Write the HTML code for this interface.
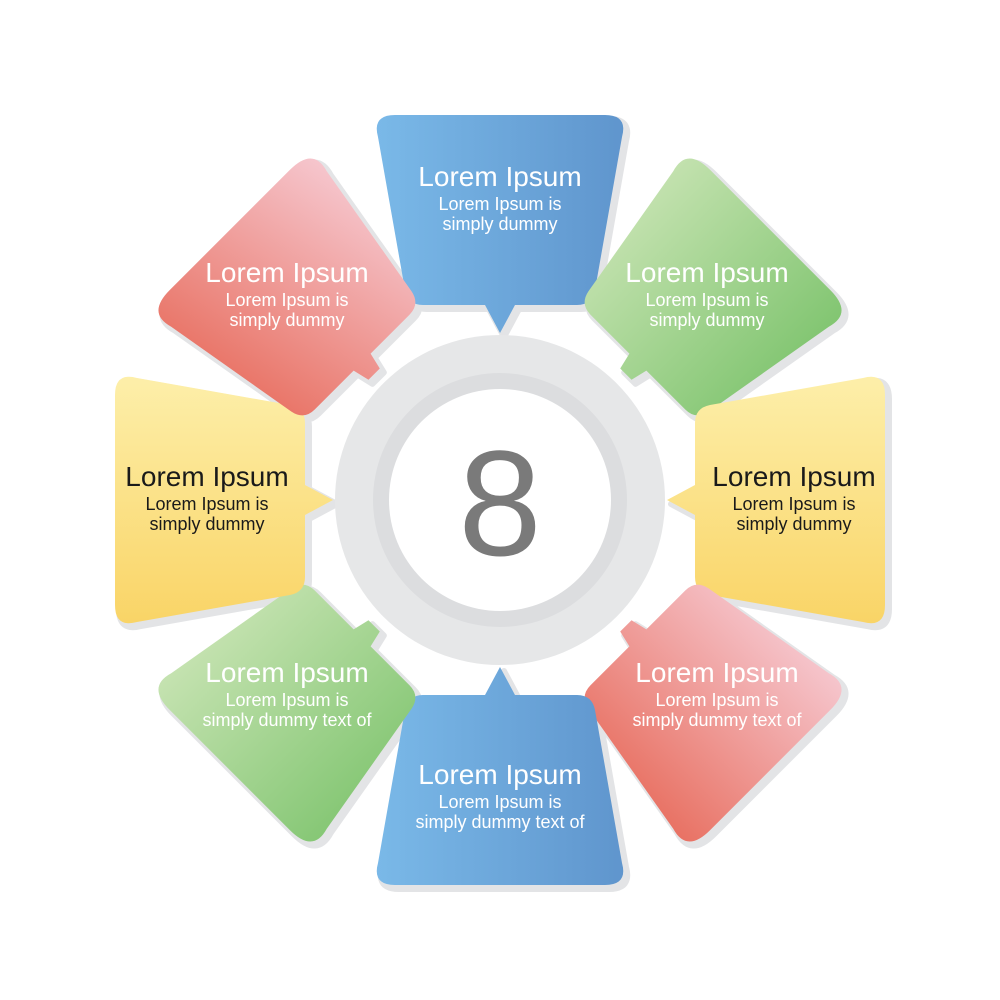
<!DOCTYPE html>
<html><head><meta charset="utf-8"><style>
html,body{margin:0;padding:0;background:#fff;}
svg{display:block;}
text{font-family:"Liberation Sans",Arial,sans-serif;text-anchor:middle;}
</style></head><body>
<svg width="1000" height="1000" viewBox="0 0 1000 1000" xmlns="http://www.w3.org/2000/svg">
<defs>
<path id="p" d="M395,115 L605,115 Q628,115 622,137 L595,290 Q592,305 577,305 L515,305 L500,333 L485,305 L423,305 Q408,305 405,290 L378,137 Q372,115 395,115 Z"/>
<path id="q" d="M415,118 L585,118 Q618,118 610,145 L585,290 Q582,305 567,305 L512,305 L508,322 L492,322 L488,305 L433,305 Q418,305 415,290 L390,145 Q382,118 415,118 Z"/>
<linearGradient id="gT" gradientUnits="userSpaceOnUse" x1="375" y1="0" x2="625" y2="0"><stop offset="0" stop-color="#7ab9e8"/><stop offset="1" stop-color="#5f95cd"/></linearGradient>
<linearGradient id="gB" gradientUnits="userSpaceOnUse" gradientTransform="rotate(-180 500 500)" x1="375" y1="0" x2="625" y2="0"><stop offset="0" stop-color="#7ab9e8"/><stop offset="1" stop-color="#5f95cd"/></linearGradient>
<linearGradient id="gTL" gradientUnits="userSpaceOnUse" gradientTransform="rotate(-315 500 500)" x1="330" y1="160" x2="190" y2="370"><stop offset="0" stop-color="#f6c8d0"/><stop offset="1" stop-color="#e86f60"/></linearGradient>
<linearGradient id="gBR" gradientUnits="userSpaceOnUse" gradientTransform="rotate(-135 500 500)" x1="830" y1="660" x2="660" y2="830"><stop offset="0" stop-color="#f6c8d0"/><stop offset="1" stop-color="#e86f60"/></linearGradient>
<linearGradient id="gTR" gradientUnits="userSpaceOnUse" gradientTransform="rotate(-45 500 500)" x1="630" y1="170" x2="830" y2="360"><stop offset="0" stop-color="#cbe5b6"/><stop offset="1" stop-color="#7cc36c"/></linearGradient>
<linearGradient id="gBL" gradientUnits="userSpaceOnUse" gradientTransform="rotate(-225 500 500)" x1="170" y1="640" x2="370" y2="840"><stop offset="0" stop-color="#cbe5b6"/><stop offset="1" stop-color="#7cc36c"/></linearGradient>
<linearGradient id="gL" gradientUnits="userSpaceOnUse" gradientTransform="rotate(-270 500 500)" x1="0" y1="375" x2="0" y2="625"><stop offset="0" stop-color="#fdefaa"/><stop offset="1" stop-color="#f9d466"/></linearGradient>
<linearGradient id="gR" gradientUnits="userSpaceOnUse" gradientTransform="rotate(-90 500 500)" x1="0" y1="375" x2="0" y2="625"><stop offset="0" stop-color="#fdefaa"/><stop offset="1" stop-color="#f9d466"/></linearGradient>
</defs>
<g fill="#e3e4e6" stroke="#e3e4e6" stroke-width="6" stroke-linejoin="round">
<use href="#p" transform="translate(4,4)"/>
<use href="#q" transform="translate(4,4) rotate(45 500 500)"/>
<use href="#p" transform="translate(4,4) rotate(90 500 500)"/>
<use href="#q" transform="translate(4,4) rotate(135 500 500)"/>
<use href="#p" transform="translate(4,4) rotate(180 500 500)"/>
<use href="#q" transform="translate(4,4) rotate(225 500 500)"/>
<use href="#p" transform="translate(4,4) rotate(270 500 500)"/>
<use href="#q" transform="translate(4,4) rotate(315 500 500)"/>
</g>
<use href="#p" fill="url(#gT)"/>
<use href="#q" fill="url(#gTR)" transform="rotate(45 500 500)"/>
<use href="#p" fill="url(#gR)" transform="rotate(90 500 500)"/>
<use href="#q" fill="url(#gBR)" transform="rotate(135 500 500)"/>
<use href="#p" fill="url(#gB)" transform="rotate(180 500 500)"/>
<use href="#q" fill="url(#gBL)" transform="rotate(225 500 500)"/>
<use href="#p" fill="url(#gL)" transform="rotate(270 500 500)"/>
<use href="#q" fill="url(#gTL)" transform="rotate(315 500 500)"/>
<circle cx="500" cy="500" r="165" fill="#e6e7e8"/>
<circle cx="500" cy="500" r="127" fill="#dcdddf"/>
<circle cx="500" cy="500" r="111" fill="#ffffff"/>
<text x="500" y="555" font-size="150" fill="#7a7a7a">8</text>
<g fill="#fff">
<text x="500" y="186" font-size="28">Lorem Ipsum</text><text x="500" y="210" font-size="18">Lorem Ipsum is</text><text x="500" y="230" font-size="18">simply dummy</text>
<text x="287" y="282" font-size="28">Lorem Ipsum</text><text x="287" y="306" font-size="18">Lorem Ipsum is</text><text x="287" y="326" font-size="18">simply dummy</text>
<text x="707" y="282" font-size="28">Lorem Ipsum</text><text x="707" y="306" font-size="18">Lorem Ipsum is</text><text x="707" y="326" font-size="18">simply dummy</text>
<text x="287" y="682" font-size="28">Lorem Ipsum</text><text x="287" y="706" font-size="18">Lorem Ipsum is</text><text x="287" y="726" font-size="18">simply dummy text of</text>
<text x="717" y="682" font-size="28">Lorem Ipsum</text><text x="717" y="706" font-size="18">Lorem Ipsum is</text><text x="717" y="726" font-size="18">simply dummy text of</text>
<text x="500" y="784" font-size="28">Lorem Ipsum</text><text x="500" y="808" font-size="18">Lorem Ipsum is</text><text x="500" y="828" font-size="18">simply dummy text of</text>
</g>
<g fill="#1a1a1a">
<text x="207" y="486" font-size="28">Lorem Ipsum</text><text x="207" y="510" font-size="18">Lorem Ipsum is</text><text x="207" y="530" font-size="18">simply dummy</text>
<text x="794" y="486" font-size="28">Lorem Ipsum</text><text x="794" y="510" font-size="18">Lorem Ipsum is</text><text x="794" y="530" font-size="18">simply dummy</text>
</g>
</svg>
</body></html>
